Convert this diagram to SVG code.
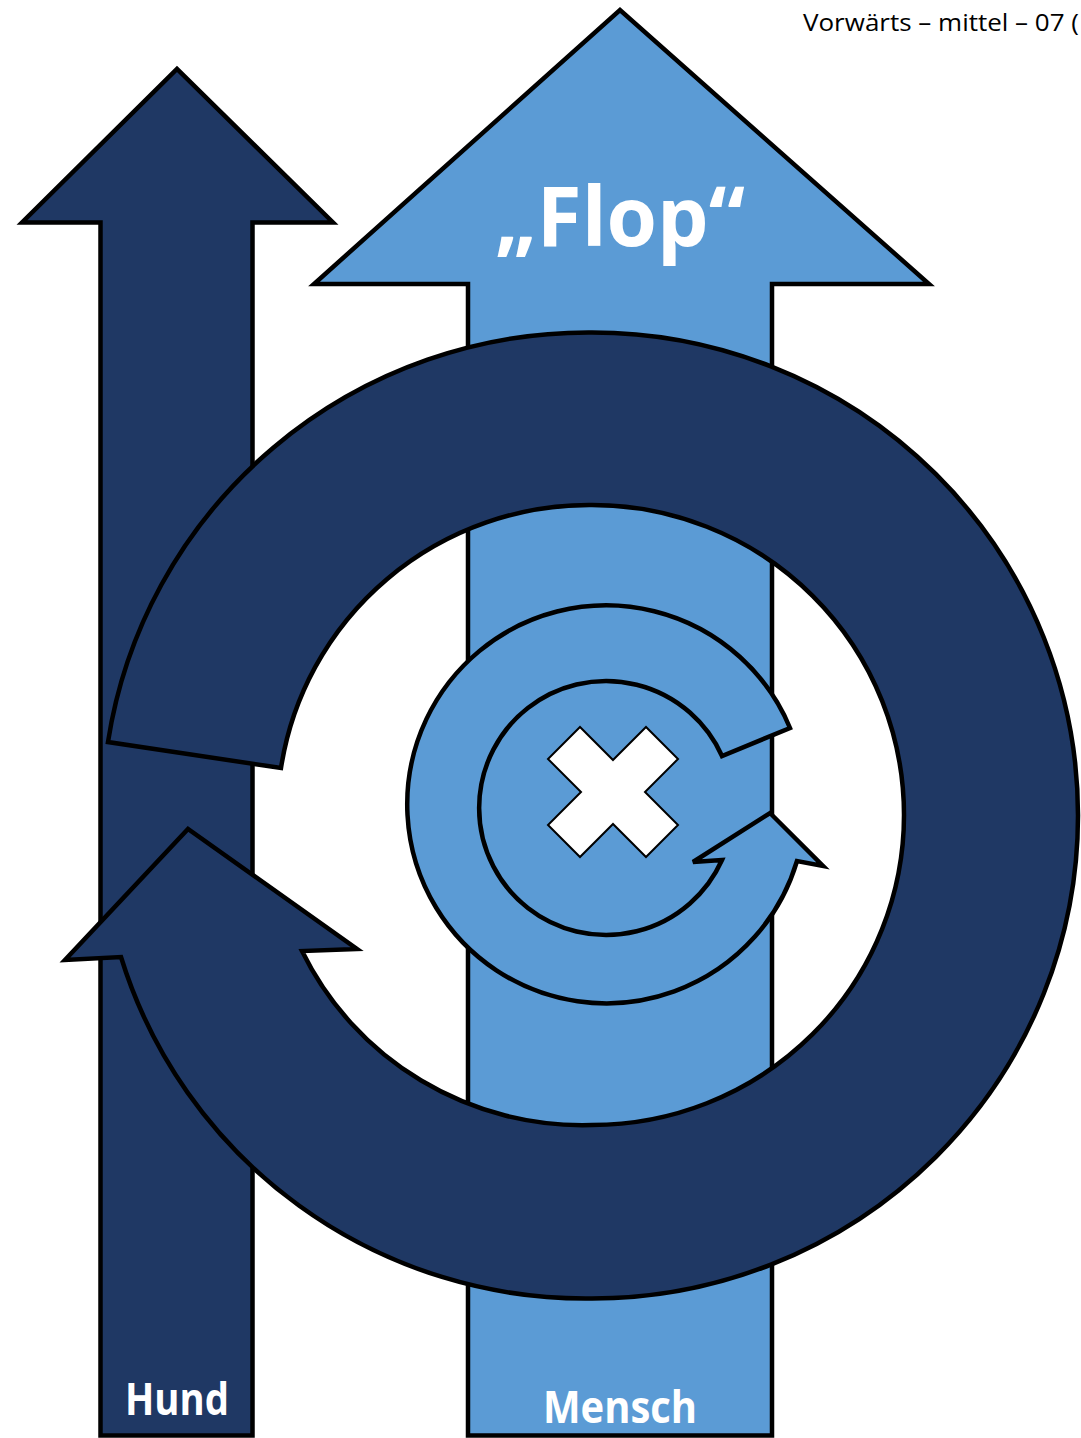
<svg xmlns="http://www.w3.org/2000/svg" width="1081" height="1438" viewBox="0 0 1081 1438">
  <style>
    .dark { fill: #1F3864; stroke: #000; stroke-width: 4.5; stroke-linejoin: miter; }
    .light { fill: #5B9BD5; stroke: #000; stroke-width: 4.5; stroke-linejoin: miter; }
    .lbl { font-family: "Open Sans", "Noto Sans", "Liberation Sans", sans-serif; font-weight: bold; fill: #fff; text-anchor: middle; }
    .hdr { font-family: "Open Sans", "Noto Sans", "Liberation Sans", sans-serif; font-size: 23px; fill: #000; }
  </style>
  <rect width="1081" height="1438" fill="#fff"/>
  <g id="hund-arrow">
    <polygon class="dark" points="100.5,1435.5 100.5,222.5 22,222.5 177,69 333,222.5 252.5,222.5 252.5,1435.5"/>
  </g>
  <g id="mensch-arrow">
    <polygon class="light" points="468,1435.5 468,284 314,284 620,10 929,284 772,284 772,1435.5"/>
  </g>
  <g id="big-cycle">
    <path class="dark" d="M108,742 A486,483 0 0 1 592,332.5 A486,483 0 0 1 1078,815.5 A486,483 0 0 1 592,1298.5 A486,483 0 0 1 121,957 L65,960 L188,829 L357,949 L302,951 A312,310 0 0 0 592,1125 A312,310 0 0 0 904,815 A312,310 0 0 0 592,505 A312,310 0 0 0 281,768 Z"/>
  </g>
  <g id="small-cycle">
    <path class="light" stroke-width="4" d="M790,728 A199,199 0 1 0 797,861 L823,866 L770,813 L693,862 L722,860 A127,127 0 1 1 722,756 Z"/>
  </g>
  <g id="cross">
    <polygon fill="#fff" stroke="#000" stroke-width="2" points="613,760 646,727 678,759 645,792 678,825 646,857 613,824 580,857 548,825 581,792 548,759 580,727"/>
  </g>
  <g id="labels">
    <text class="lbl" x="620" y="246" font-size="82" textLength="250" lengthAdjust="spacingAndGlyphs">„Flop“</text>
    <text class="lbl" x="177" y="1415" font-size="44" textLength="104" lengthAdjust="spacingAndGlyphs">Hund</text>
    <text class="lbl" x="620" y="1423" font-size="44" textLength="154" lengthAdjust="spacingAndGlyphs">Mensch</text>
    <text class="hdr" x="803" y="31" textLength="276" lengthAdjust="spacingAndGlyphs">Vorwärts – mittel – 07 (</text>
  </g>
</svg>
